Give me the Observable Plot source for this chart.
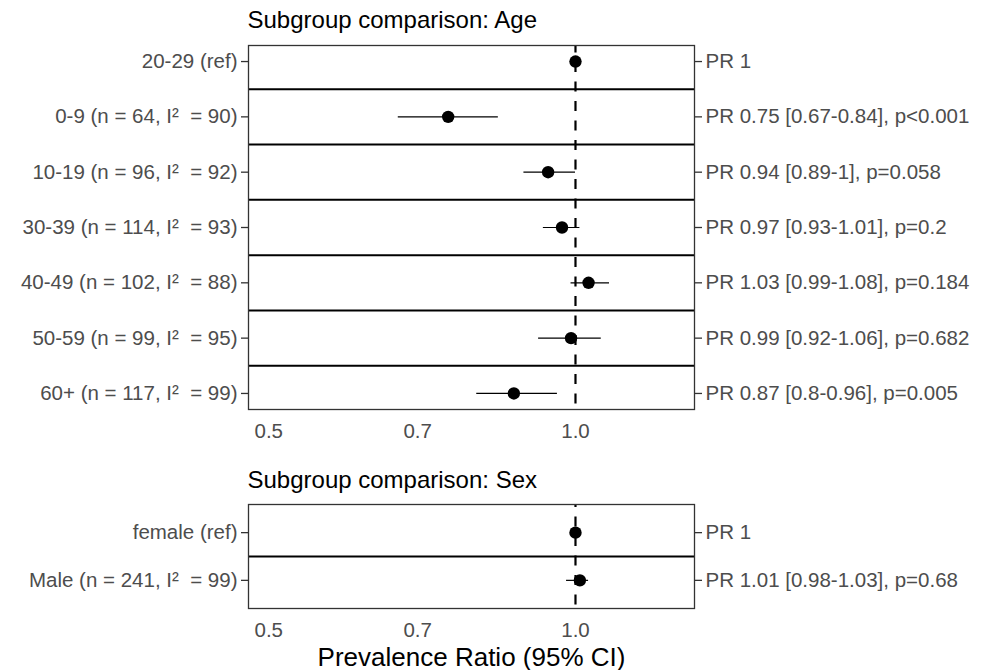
<!DOCTYPE html>
<html>
<head>
<meta charset="utf-8">
<script src="https://cdn.jsdelivr.net/npm/d3@7"></script>
<script src="https://cdn.jsdelivr.net/npm/@observablehq/plot@0.6"></script>
<style>
  html, body { margin: 0; padding: 0; background: white; }
  #chart svg { display: block; }
</style>
</head>
<body>
<div id="chart"></div>
<script>
// ---- Data ----
const ageTitle = "Subgroup comparison: Age";
const ageGroups = [
  "20-29 (ref)",
  "0-9 (n = 64, I\u00B2 \u00A0= 90)",
  "10-19 (n = 96, I\u00B2 \u00A0= 92)",
  "30-39 (n = 114, I\u00B2 \u00A0= 93)",
  "40-49 (n = 102, I\u00B2 \u00A0= 88)",
  "50-59 (n = 99, I\u00B2 \u00A0= 95)",
  "60+ (n = 117, I\u00B2 \u00A0= 99)"
];
const agePR    = [1, 0.75, 0.94, 0.97, 1.03, 0.99, 0.87];
const ageLower = [null, 0.67, 0.89, 0.93, 0.99, 0.92, 0.80];
const ageUpper = [null, 0.84, 1.00, 1.01, 1.08, 1.06, 0.96];
const ageLabels = [
  "PR 1",
  "PR 0.75 [0.67-0.84], p<0.001",
  "PR 0.94 [0.89-1], p=0.058",
  "PR 0.97 [0.93-1.01], p=0.2",
  "PR 1.03 [0.99-1.08], p=0.184",
  "PR 0.99 [0.92-1.06], p=0.682",
  "PR 0.87 [0.8-0.96], p=0.005"
];

const sexTitle = "Subgroup comparison: Sex";
const sexGroups = ["female (ref)", "Male (n = 241, I\u00B2 \u00A0= 99)"];
const sexPR    = [1, 1.01];
const sexLower = [null, 0.98];
const sexUpper = [null, 1.03];
const sexLabels = ["PR 1", "PR 1.01 [0.98-1.03], p=0.68"];

const xTicks = [0.5, 0.7, 1.0];
const xLimits = [0.5, 1.25];
const refLine = [1];
const xAxisTitle = "Prevalence Ratio (95% CI)";

// ---- Helpers ----
const FONT = "'Liberation Sans', Arial, Helvetica, sans-serif";
const logExpand = (lim, f) => {
  const a = Math.log(lim[0]), b = Math.log(lim[1]), e = (b - a) * f;
  return [Math.exp(a - e), Math.exp(b + e)];
};
const xDomain = logExpand(xLimits, 0.05);

function panel({title, groups, pr, lower, upper, labels, height, marginTop, marginBottom, pad, titleDy, dashOffset, axisTitle}) {
  const data = groups.map((g, i) => ({i, group: g, pr: pr[i], lo: lower[i], hi: upper[i], label: labels[i]}));
  const n = data.length;
  const idx = data.map(d => d.i);
  const seps = idx.slice(1).map(i => i - 0.5);
  const ci = data.filter(d => d.lo != null);
  const marks = [
    Plot.ruleX(refLine, {stroke: "black", strokeWidth: 2.2, strokeDasharray: "10,9.5", strokeDashoffset: dashOffset}),
    Plot.ruleY(seps, {stroke: "black", strokeWidth: 2}),
    Plot.frame({stroke: "#333333", strokeWidth: 1.3}),
    Plot.ruleY(ci, {y: "i", x1: "lo", x2: "hi", stroke: "black", strokeWidth: 1.2}),
    Plot.dot(data, {x: "pr", y: "i", r: 6.2, fill: "black", stroke: "none"}),
    Plot.axisY(idx, {anchor: "left", label: null, tickSize: 7, tickPadding: 4, strokeWidth: 1.3, stroke: "#333333", fill: "#4d4d4d", fontSize: 20.5, tickFormat: i => groups[i]}),
    Plot.axisY(idx, {anchor: "right", label: null, tickSize: 7, tickPadding: 4, strokeWidth: 1.3, stroke: "#333333", fill: "#4d4d4d", fontSize: 20.5, tickFormat: i => labels[i]}),
    Plot.axisX(xTicks, {anchor: "bottom", label: null, tickSize: 0, tickPadding: 14, fill: "#4d4d4d", fontSize: 20.5, tickFormat: d3.format(".1f")}),
    Plot.text([title], {frameAnchor: "top-left", textAnchor: "start", lineAnchor: "bottom", dx: -1, dy: titleDy, fontSize: 24, fill: "black"})
  ];
  if (axisTitle) {
    marks.push(Plot.text([axisTitle], {frameAnchor: "bottom", textAnchor: "middle", lineAnchor: "bottom", dy: 57, fontSize: 26, fill: "black"}));
  }
  return Plot.plot({
    width: 988,
    height,
    marginLeft: 248,
    marginRight: 294,
    marginTop,
    marginBottom,
    style: {fontFamily: FONT, fontSize: "20.5px", background: "white", color: "black"},
    x: {type: "log", domain: xDomain, axis: null},
    y: {domain: [n - 1 + pad, -pad], axis: null},
    marks
  });
}

const chart = document.getElementById("chart");
chart.appendChild(panel({
  title: ageTitle, groups: ageGroups, pr: agePR, lower: ageLower, upper: ageUpper, labels: ageLabels,
  height: 450, marginTop: 45, marginBottom: 41, pad: 0.29, titleDy: -17.5, dashOffset: 2.5
}));
chart.appendChild(panel({
  title: sexTitle, groups: sexGroups, pr: sexPR, lower: sexLower, upper: sexUpper, labels: sexLabels,
  height: 220, marginTop: 54, marginBottom: 62, pad: 0.59, titleDy: -17, dashOffset: 7, axisTitle: xAxisTitle
}));
</script>
</body>
</html>
